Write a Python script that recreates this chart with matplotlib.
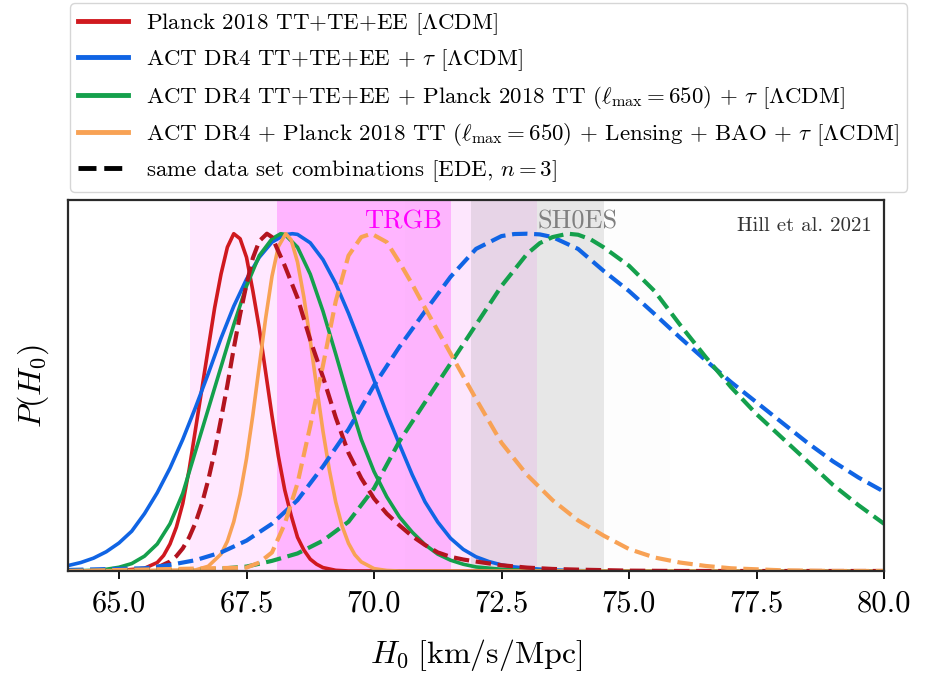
import numpy as np
import matplotlib
matplotlib.use("Agg")
import matplotlib.pyplot as plt
from matplotlib.lines import Line2D

plt.rcParams['font.family'] = 'serif'
plt.rcParams['font.serif'] = ['cmr10']
plt.rcParams['mathtext.fontset'] = 'cm'
plt.rcParams['axes.formatter.use_mathtext'] = True
plt.rcParams['axes.unicode_minus'] = False

# posteriors (normalised to peak = 1)
h_planck = [64.0, 65.0, 65.5, 65.75, 65.875, 66.0, 66.125, 66.25, 66.375, 66.5, 66.625, 66.75,
            66.875, 67.0, 67.125, 67.25, 67.375, 67.5, 67.625, 67.75, 67.875, 68.0, 68.125,
            68.25, 68.375, 68.5, 68.625, 68.75, 68.875, 69.0, 69.25, 69.5, 80.0]
p_planck = [0.0, 0.001, 0.008, 0.025, 0.046, 0.08, 0.13, 0.20, 0.30, 0.42, 0.54, 0.66,
            0.78, 0.88, 0.96, 1.0, 0.985, 0.93, 0.83, 0.72, 0.59, 0.46, 0.34,
            0.24, 0.165, 0.10, 0.062, 0.035, 0.02, 0.01, 0.002, 0.0, 0.0]

h_act = [64.0, 64.25, 64.5, 64.75, 65.0, 65.25, 65.5, 65.75, 66.0, 66.25, 66.5, 66.75, 67.0,
         67.25, 67.5, 67.75, 68.0, 68.25, 68.4, 68.5, 68.75, 69.0, 69.25, 69.5, 69.75, 70.0,
         70.25, 70.5, 70.75, 71.0, 71.25, 71.5, 71.75, 72.0, 72.25, 72.5, 72.75, 73.0, 73.5,
         74.0, 74.5, 80.0]
p_act = [0.016, 0.025, 0.038, 0.057, 0.083, 0.118, 0.17, 0.232, 0.305, 0.39, 0.485, 0.585, 0.69,
         0.785, 0.865, 0.93, 0.975, 0.997, 1.0, 0.998, 0.973, 0.923, 0.852, 0.764, 0.667, 0.566,
         0.467, 0.375, 0.285, 0.205, 0.145, 0.097, 0.064, 0.042, 0.028, 0.018, 0.012, 0.008,
         0.003, 0.001, 0.0, 0.0]

h_act_pl = [64.0, 64.5, 64.75, 65.0, 65.25, 65.5, 65.75, 66.0, 66.25, 66.5, 66.75, 67.0, 67.25,
            67.5, 67.75, 68.0, 68.17, 68.25, 68.5, 68.75, 69.0, 69.25, 69.5, 69.75, 70.0, 70.25,
            70.5, 70.75, 71.0, 71.25, 71.5, 71.75, 72.0, 72.5, 73.0, 73.5, 80.0]
p_act_pl = [0.0, 0.002, 0.005, 0.011, 0.022, 0.044, 0.08, 0.14, 0.23, 0.355, 0.48, 0.605, 0.73,
            0.845, 0.935, 0.985, 1.0, 0.998, 0.96, 0.88, 0.77, 0.643, 0.512, 0.39, 0.295, 0.22,
            0.16, 0.115, 0.078, 0.05, 0.032, 0.02, 0.012, 0.005, 0.002, 0.0, 0.0]

h_act_all = [64.0, 66.5, 66.75, 67.0, 67.125, 67.25, 67.375, 67.5, 67.625, 67.75, 67.875, 68.0,
             68.125, 68.27, 68.375, 68.5, 68.625, 68.75, 68.875, 69.0, 69.125, 69.25, 69.375,
             69.5, 69.625, 69.75, 70.0, 70.25, 70.5, 80.0]
p_act_all = [0.0, 0.003, 0.014, 0.05, 0.088, 0.146, 0.227, 0.333, 0.463, 0.607, 0.749, 0.874,
             0.962, 1.0, 0.982, 0.916, 0.812, 0.683, 0.546, 0.414, 0.299, 0.204, 0.133,
             0.082, 0.048, 0.027, 0.007, 0.0015, 0.0, 0.0]

# EDE (n = 3)
h_planck_ede = [64.0, 65.5, 65.75, 66.0, 66.125, 66.25, 66.375, 66.5, 66.625, 66.75, 66.875,
                67.0, 67.125, 67.25, 67.375, 67.5, 67.625, 67.75, 67.9, 68.0, 68.25, 68.5,
                68.75, 69.0, 69.25, 69.5, 69.75, 70.0, 70.25, 70.5, 70.75, 71.0, 71.25, 71.5,
                71.75, 72.0, 72.5, 73.0, 73.5, 74.0, 75.0, 76.0, 80.0]
p_planck_ede = [0.0, 0.004, 0.01, 0.028, 0.044, 0.067, 0.0995, 0.143, 0.199, 0.27, 0.353,
                0.45, 0.551, 0.66, 0.761, 0.85, 0.928, 0.978, 1.0, 0.99, 0.905, 0.81,
                0.685, 0.575, 0.455, 0.35, 0.275, 0.215, 0.17, 0.135, 0.103, 0.077, 0.055, 0.042,
                0.034, 0.028, 0.017, 0.01, 0.006, 0.004, 0.001, 0.0, 0.0]

h_act_ede = [64.0, 65.5, 66.0, 66.5, 67.0, 67.5, 68.0, 68.5, 69.0, 69.5, 70.0, 70.5, 71.0,
             71.5, 72.0, 72.5, 72.75, 73.0, 73.25, 73.5, 74.0, 74.5, 75.0, 75.5, 76.0, 76.5,
             77.0, 77.5, 78.0, 78.5, 79.0, 79.5, 80.0]
p_act_ede = [0.003, 0.008, 0.018, 0.032, 0.055, 0.09, 0.14, 0.21, 0.31, 0.42, 0.55, 0.665, 0.77,
             0.872, 0.955, 0.993, 0.999, 1.0, 0.998, 0.99, 0.955, 0.89, 0.83, 0.762, 0.692, 0.625,
             0.56, 0.50, 0.44, 0.38, 0.325, 0.277, 0.235]

h_act_pl_ede = [64.0, 66.5, 67.0, 67.5, 68.0, 68.5, 69.0, 69.5, 70.0, 70.5, 71.0, 71.5, 72.0,
                72.5, 73.0, 73.25, 73.5, 73.8, 74.0, 74.25, 74.5, 75.0, 75.5, 76.0, 76.5, 77.0,
                77.5, 78.0, 78.5, 79.0, 79.5, 80.0]
p_act_pl_ede = [0.0, 0.003, 0.007, 0.013, 0.03, 0.052, 0.09, 0.146, 0.245, 0.385, 0.50, 0.615,
                0.73, 0.845, 0.94, 0.972, 0.99, 1.0, 0.997, 0.983, 0.96, 0.905, 0.83, 0.73,
                0.635, 0.545, 0.465, 0.395, 0.325, 0.255, 0.195, 0.14]

h_act_all_ede = [64.0, 67.5, 67.75, 68.0, 68.25, 68.5, 68.75, 69.0, 69.25, 69.5, 69.75, 69.95,
                 70.25, 70.5, 70.75, 71.0, 71.5, 72.0, 72.5, 73.0, 73.5, 74.0, 74.5, 75.0, 75.5,
                 76.0, 76.5, 77.0, 78.0, 79.0, 80.0]
p_act_all_ede = [0.0, 0.01, 0.025, 0.055, 0.14, 0.26, 0.43, 0.61, 0.80, 0.935, 0.99, 1.0,
                 0.975, 0.915, 0.85, 0.78, 0.645, 0.51, 0.38, 0.285, 0.21, 0.15, 0.105, 0.065,
                 0.04, 0.025, 0.015, 0.008, 0.002, 0.0, 0.0]

# local measurements: mean, sigma
trgb = (69.8, 1.7)
shoes = (73.2, 1.3)

labels = [r'Planck 2018 TT+TE+EE [$\Lambda$CDM]',
          r'ACT DR4 TT+TE+EE + $\tau$ [$\Lambda$CDM]',
          r'ACT DR4 TT+TE+EE + Planck 2018 TT ($\ell_{\rm max}=650$) + $\tau$ [$\Lambda$CDM]',
          r'ACT DR4 + Planck 2018 TT ($\ell_{\rm max}=650$) + Lensing + BAO + $\tau$ [$\Lambda$CDM]',
          r'same data set combinations [EDE, $n=3$]']

c_red = '#d0191f'
c_dred = '#b3141f'
c_blue = '#1064e4'
c_green = '#14a04c'
c_orange = '#f8a255'

fig = plt.figure(figsize=(9.34, 6.77), dpi=100)
ax = fig.add_axes([0.0728, 0.1566, 0.8737, 0.548])

# bands
ax.axvspan(trgb[0] - 2 * trgb[1], trgb[0] + 2 * trgb[1], color='magenta', alpha=0.09, lw=0)
ax.axvspan(trgb[0] - trgb[1], trgb[0] + trgb[1], color='magenta', alpha=0.22, lw=0)
ax.axvspan(shoes[0] - 2 * shoes[1], shoes[0] + 2 * shoes[1], color='grey', alpha=0.01, lw=0)
ax.axvspan(shoes[0] - shoes[1], shoes[0] + shoes[1], color='grey', alpha=0.17, lw=0)

lw = 2.6
lwd = 3.0
ax.plot(h_planck, p_planck, color=c_red, lw=lw)
ax.plot(h_act, p_act, color=c_blue, lw=lw)
ax.plot(h_act_pl, p_act_pl, color=c_green, lw=lw)
ax.plot(h_act_all, p_act_all, color=c_orange, lw=lw)
ax.plot(h_planck_ede, p_planck_ede, color=c_dred, lw=lwd, ls='--')
ax.plot(h_act_ede, p_act_ede, color=c_blue, lw=lwd, ls='--')
ax.plot(h_act_pl_ede, p_act_pl_ede, color=c_green, lw=lwd, ls='--')
ax.plot(h_act_all_ede, p_act_all_ede, color=c_orange, lw=lwd, ls='--')

ax.text(trgb[0], 1.015, 'TRGB', color='magenta', fontsize=19, ha='left', va='baseline')
ax.text(shoes[0], 1.015, 'SH0ES', color='grey', fontsize=19, ha='left', va='baseline')
ax.text(0.985, 0.955, 'Hill et al. 2021', transform=ax.transAxes, fontsize=15,
        color='#333333', ha='right', va='top')

ax.set_xlim(64, 80)
ax.set_ylim(0, 1.1)
ax.set_xticks(np.arange(65, 80.1, 2.5))
ax.set_xticklabels(['%.1f' % t for t in np.arange(65, 80.1, 2.5)])
ax.set_yticks([])
ax.tick_params(axis='x', direction='out', length=6, width=1.3, labelsize=22, pad=8)
for s in ax.spines.values():
    s.set_linewidth(1.6)
    s.set_color('#2a2a2a')
ax.set_xlabel(r'$H_0\;[{\rm km/s/Mpc}]$', fontsize=23, labelpad=14)
ax.set_ylabel(r'$P(H_0)$', fontsize=23, labelpad=12)

handles = [Line2D([], [], color=c, lw=3.5) for c in [c_red, c_blue, c_green, c_orange]]
handles.append(Line2D([], [], color='black', lw=3.5, ls='--'))
fig.legend(handles, labels, loc='upper left', bbox_to_anchor=(0.075, 0.995),
           fontsize=16.5, handlelength=2.2, handletextpad=0.75, labelspacing=0.45,
           borderpad=0.35, borderaxespad=0, edgecolor='#cccccc', fancybox=True)

fig.savefig('out.png', dpi=100)
